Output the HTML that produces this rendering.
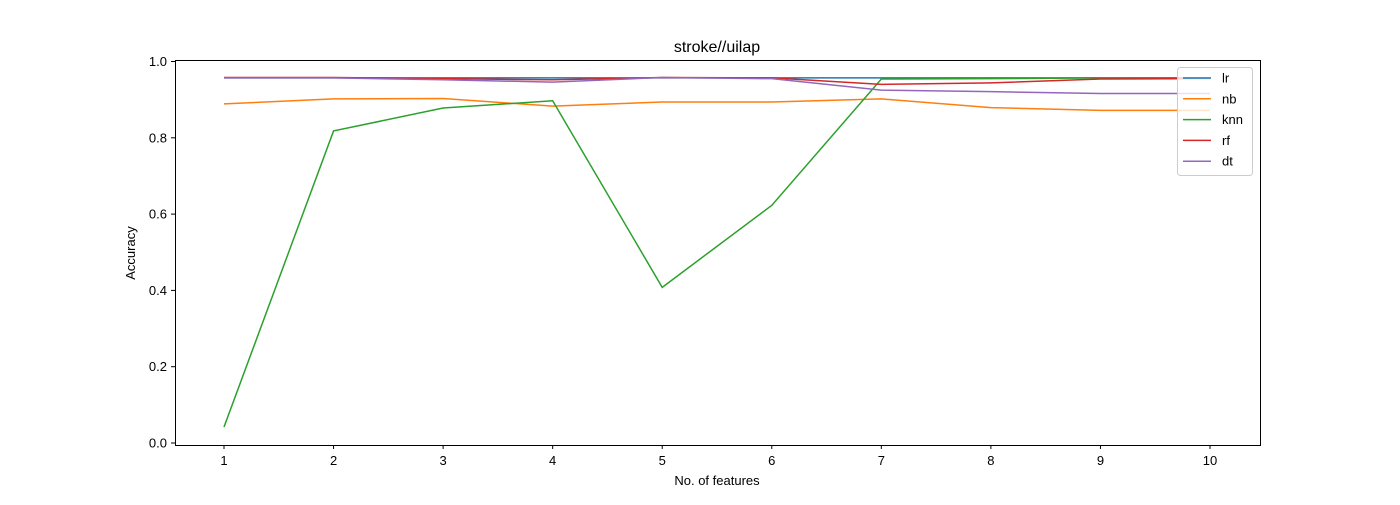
<!DOCTYPE html>
<html><head><meta charset="utf-8"><style>
body{margin:0;background:#fff;}
svg{font-family:"Liberation Sans","DejaVu Sans",sans-serif;}
</style></head><body>
<svg id="chart" width="1400" height="500" xmlns="http://www.w3.org/2000/svg">
<rect width="1400" height="500" fill="#fff"/>
<text x="717" y="52" font-size="16" text-anchor="middle">stroke//uilap</text>
<g id="grid"></g>
<g id="series"></g>
<rect x="175.5" y="60.5" width="1085" height="385" fill="none" stroke="#000" stroke-width="1"/>
<text x="717" y="485" font-size="13" text-anchor="middle">No. of features</text>
<text transform="translate(135,253) rotate(-90)" font-size="13" text-anchor="middle">Accuracy</text>
<g id="legend"></g>
</svg>
<script>
const categories=[1,2,3,4,5,6,7,8,9,10];
const seriesNames=["lr","nb","knn","rf","dt"];
const colors=["#1f77b4","#ff7f0e","#2ca02c","#d62728","#9467bd"];
const lr=[0.957,0.957,0.957,0.957,0.957,0.957,0.957,0.957,0.957,0.957];
const nb=[0.889,0.902,0.903,0.883,0.894,0.894,0.902,0.879,0.872,0.872];
const knn=[0.042,0.818,0.878,0.897,0.408,0.623,0.954,0.955,0.957,0.957];
const rf=[0.958,0.958,0.955,0.952,0.958,0.957,0.940,0.944,0.954,0.955];
const dt=[0.957,0.957,0.952,0.946,0.958,0.955,0.925,0.921,0.916,0.916];
const yTicks=[0.0,0.2,0.4,0.6,0.8,1.0];
const yTickLabels=["0.0","0.2","0.4","0.6","0.8","1.0"];
const allSeries=[lr,nb,knn,rf,dt];
const NS="http://www.w3.org/2000/svg";
function xs(v){return 224+(v-1)*(1210-224)/9;}
function ys(v){return 443-v*381.5;}
const grid=document.getElementById('grid');
function mk(tag,attrs,parent){const e=document.createElementNS(NS,tag);for(const k in attrs)e.setAttribute(k,attrs[k]);parent.appendChild(e);return e;}
categories.forEach(c=>{
  const x=xs(c);
  const t=mk('line',{x1:x,x2:x,y1:445,y2:449,stroke:'#000'},grid);
  
  
  const l=mk('text',{x:x,y:465,'font-size':13,'text-anchor':'middle'},grid);l.textContent=c;
  
  
});
yTicks.forEach((v,i)=>{
  const y=ys(v);
  const t=mk('line',{x1:171,x2:175,y1:y,y2:y,stroke:'#000'},grid);
  
  
  const l=mk('text',{x:167,y:y+4.5,'font-size':13,'text-anchor':'end'},grid);l.textContent=yTickLabels[i];
  
  
});
const sg=document.getElementById('series');
allSeries.forEach((s,i)=>{
  const p=mk('polyline',{points:s.map((v,j)=>xs(categories[j])+','+ys(v)).join(' '),fill:'none',stroke:colors[i],'stroke-width':1.5},sg);
  
  
});
const lg=document.getElementById('legend');
const box=mk('rect',{x:1177.5,y:67.5,width:75,height:108,rx:3,fill:'#fff','fill-opacity':0.8,stroke:'#ccc'},lg);


seriesNames.forEach((n,i)=>{
  const y=78+i*20.8;
  const l=mk('line',{x1:1183,x2:1211,y1:y,y2:y,stroke:colors[i],'stroke-width':1.5},lg);
  
  
  const t=mk('text',{x:1222,y:y+4.5,'font-size':13},lg);t.textContent=n;
  
  
});
</script>
</body></html>
